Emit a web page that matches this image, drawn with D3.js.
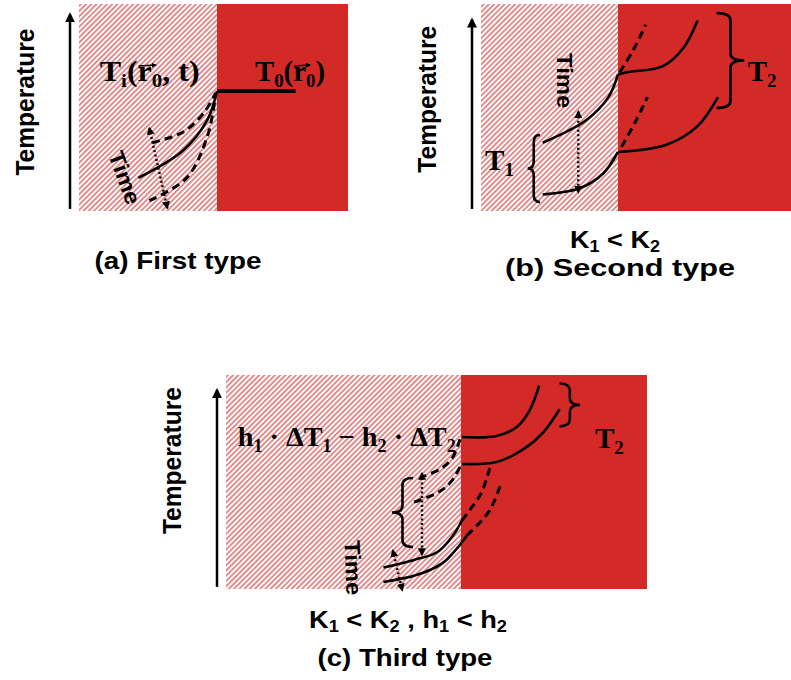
<!DOCTYPE html>
<html>
<head>
<meta charset="utf-8">
<title>Temperature profile types</title>
<script src="https://cdn.jsdelivr.net/npm/d3@7"></script>
<style>
  body { margin: 0; background: #fff; }
  .sans { font-family: "Liberation Sans", Arial, sans-serif; font-weight: bold; }
  .serif { font-family: "Liberation Serif", "Times New Roman", serif; font-weight: bold; }
</style>
</head>
<body>
<script>
// x: -100 = left edge of material 1, 0 = interface, 100 = right edge of material 2
// y: temperature, 0 = bottom, 100 = top

// (a) first type
var aSolid    = [[-57, 16], [-25, 29], [-7, 44], [0, 58]];
var aDashUp   = [[-47, 33], [-25, 38], [-10, 47], [-1, 57]];
var aDashLow  = [[-49, 5], [-22, 16], [-7, 36], [-1, 56]];
var aSurface  = [[0, 58], [60, 58]];
var aTimeArr  = [[-49, 40], [-36, 1.5]];

// (b) second type
var bTopLeft  = [[-55, 33], [-23, 44], [-7, 55], [0, 66]];
var bTopRight = [[0, 66], [5, 67], [26, 70], [38, 79], [46, 92]];
var bTopDash  = [[1, 67], [9, 78], [16, 90]];
var bLowLeft  = [[-55, 8], [-28, 11], [-11, 18], [0, 28.5]];
var bLowRight = [[0, 28.5], [28, 32], [46, 41], [57.8, 55]];
var bLowDash  = [[2, 31], [10, 43], [17, 55]];
var bTimeArr  = [[-29, 48], [-29, 9]];
var bBraces   = [{ends: -57, tip: -66, y1: 36.7, y2: 4.3}, {ends: 57, tip: 73, y1: 95.6, y2: 49.8}];

// (c) third type
var cTopRight = [[0.5, 71], [19, 71.5], [30, 75.7], [37, 83.6], [42, 95]];
var cMidRight = [[0.5, 58.4], [19, 59.3], [33, 65], [44, 73], [53, 84]];
var cDash1    = [[-0.4, 70], [-3.8, 61], [-8.9, 56], [-16, 52.6]];
var cDash2    = [[-0.4, 57], [-4.7, 49.5], [-10, 45], [-20, 40.6]];
var cLow1     = [[-33, 10], [-20, 13.6], [-10, 17.3], [-3.4, 25], [0.5, 32]];
var cLow1Dash = [[0.5, 32], [4.8, 37], [11, 45], [15.6, 57]];
var cLow2     = [[-33, 3.3], [-19, 6.5], [-8, 12], [-1.7, 19], [3.2, 25]];
var cLow2Dash = [[3.2, 25], [10, 31], [15.6, 37], [21, 48]];
var cTimeArr1 = [[-16.6, 54], [-16.6, 16]];
var cTimeArr2 = [[-29, 18], [-25, -0.5]];
var cBraces   = [{ends: -20.4, tip: -29.4, y1: 51.9, y2: 19.6}, {ends: 53, tip: 64, y1: 96, y2: 76}];

var w = 791, h = 680;
var svg = d3.select('body').append('svg').attr('width', w).attr('height', h);
var defs = svg.append('defs');

defs.append('pattern').attr('id', 'hatch').attr('patternUnits', 'userSpaceOnUse')
  .attr('width', 3.7).attr('height', 3.7).attr('patternTransform', 'rotate(45)')
  .append('rect').attr('width', 1.9).attr('height', 3.7).attr('fill', '#e28a8a');

function marker(id, size) {
  defs.append('marker').attr('id', id).attr('viewBox', '0 0 10 10')
    .attr('refX', 8).attr('refY', 5).attr('markerWidth', size).attr('markerHeight', size)
    .attr('markerUnits', 'userSpaceOnUse').attr('orient', 'auto-start-reverse')
    .append('path').attr('d', 'M0,0L10,5L0,10z').attr('fill', '#000');
}
marker('axisHead', 10);
marker('smallHead', 8);
marker('vecHead', 5);

function makePanel(box) {
  var g = svg.append('g');
  var x = d3.scaleLinear().domain([-100, 0, 100]).range([box.left, box.mid, box.right]);
  var y = d3.scaleLinear().domain([0, 100]).range([box.bottom, box.top]);
  g.append('rect').attr('x', box.left).attr('y', box.top).attr('width', box.mid - box.left)
    .attr('height', box.bottom - box.top).attr('fill', 'url(#hatch)');
  g.append('rect').attr('x', box.mid).attr('y', box.top).attr('width', box.right - box.mid)
    .attr('height', box.bottom - box.top).attr('fill', '#d42a27');
  // temperature axis
  g.append('line').attr('x1', box.left - 9).attr('x2', box.left - 9)
    .attr('y1', y(1)).attr('y2', y(box.axisTop))
    .attr('stroke', '#000').attr('stroke-width', 2.5).attr('marker-end', 'url(#axisHead)');
  g.append('text').attr('class', 'sans').attr('font-size', 25)
    .attr('text-anchor', 'middle').attr('textLength', 147).attr('lengthAdjust', 'spacingAndGlyphs')
    .attr('transform', 'translate(' + (box.left - 45) + ',' + y(box.labelY) + ') rotate(-90)')
    .text('Temperature');
  return {g: g, x: x, y: y};
}

function curve(p, data, style) {
  var line = d3.line().x(function(d) { return p.x(d[0]); }).y(function(d) { return p.y(d[1]); })
    .curve(d3.curveCatmullRom.alpha(0.5));
  var path = p.g.append('path').datum(data).attr('d', line).attr('fill', 'none')
    .attr('stroke', '#000').attr('stroke-width', style == 'surface' ? 4 : 2.6)
    .attr('stroke-linecap', 'butt');
  if (style == 'dash') path.attr('stroke-dasharray', '8,5').attr('stroke-width', 3);
  return path;
}

function timeArrow(p, data) {
  p.g.append('line').attr('x1', p.x(data[0][0])).attr('y1', p.y(data[0][1]))
    .attr('x2', p.x(data[1][0])).attr('y2', p.y(data[1][1]))
    .attr('stroke', '#000').attr('stroke-width', 2.4).attr('stroke-dasharray', '2,2.5')
    .attr('marker-start', 'url(#smallHead)').attr('marker-end', 'url(#smallHead)');
}

function brace(p, b) {
  var xe = p.x(b.ends), xt = p.x(b.tip), y1 = p.y(b.y1), y2 = p.y(b.y2);
  var xm = (xe + xt) / 2, ym = (y1 + y2) / 2, k = Math.min(7, (y2 - y1) / 6);
  var d = 'M' + xe + ',' + y1 + 'Q' + xm + ',' + y1 + ' ' + xm + ',' + (y1 + k) +
    'L' + xm + ',' + (ym - k) + 'Q' + xm + ',' + ym + ' ' + xt + ',' + ym +
    'Q' + xm + ',' + ym + ' ' + xm + ',' + (ym + k) +
    'L' + xm + ',' + (y2 - k) + 'Q' + xm + ',' + y2 + ' ' + xe + ',' + y2;
  p.g.append('path').attr('d', d).attr('fill', 'none').attr('stroke', '#000').attr('stroke-width', 2.6);
}

function timeLabel(p, xv, yv, angle) {
  p.g.append('text').attr('class', 'sans').attr('font-size', 22)
    .attr('text-anchor', 'middle').attr('dominant-baseline', 'central')
    .attr('textLength', 55).attr('lengthAdjust', 'spacingAndGlyphs')
    .attr('transform', 'translate(' + p.x(xv) + ',' + p.y(yv) + ') rotate(' + angle + ')')
    .text('Time');
}

// parts: [text, isSub]
function richText(parent, px, py, parts, cls, size, subSize, shift, len, anchor) {
  var t = parent.append('text').attr('class', cls).attr('font-size', size)
    .attr('x', px).attr('y', py).attr('text-anchor', anchor || 'start');
  var sub = false;
  parts.forEach(function(part) {
    var ts = t.append('tspan').text(part[0]);
    if (part[1] && !sub) ts.attr('dy', shift).attr('font-size', subSize);
    else if (part[1]) ts.attr('font-size', subSize);
    else if (sub) ts.attr('dy', -shift);
    sub = !!part[1];
  });
  if (len) t.attr('textLength', len).attr('lengthAdjust', 'spacingAndGlyphs');
  return t;
}

function vecOver(parent, t, idx) {
  var e = t.node().getExtentOfChar(idx);
  var yy = e.y + e.height * 0.36;
  parent.append('line').attr('x1', e.x + 1).attr('x2', e.x + e.width + 4)
    .attr('y1', yy).attr('y2', yy - 1).attr('stroke', '#000').attr('stroke-width', 1.5)
    .attr('marker-end', 'url(#vecHead)');
}

// ---- panel (a)
var pa = makePanel({left: 79, mid: 217, right: 348, top: 4, bottom: 211, axisTop: 95, labelY: 52.6});
curve(pa, aSolid, 'solid');
curve(pa, aDashUp, 'dash');
curve(pa, aDashLow, 'dash');
curve(pa, aSurface, 'surface');
timeArrow(pa, aTimeArr);
timeLabel(pa, -67, 16, 70);
var ti = richText(pa.g, pa.x(-85), pa.y(63), [['T'], ['i', 1], ['('], ['r'], ['0', 1], [', t)']],
  'serif', 29, 19, 6, 100);
vecOver(pa.g, ti, 3);
var t0 = richText(pa.g, pa.x(29), pa.y(63), [['T'], ['0', 1], ['('], ['r'], ['0', 1], [')']],
  'serif', 29, 19, 6, 70);
vecOver(pa.g, t0, 3);
richText(svg, 178, 269, [['(a) First type']], 'sans', 24, 16, 0, 167, 'middle');

// ---- panel (b)
var pb = makePanel({left: 481, mid: 618, right: 791, top: 4, bottom: 211, axisTop: 92.5, labelY: 54});
curve(pb, bTopLeft, 'solid');
curve(pb, bTopRight, 'solid');
curve(pb, bTopDash, 'dash');
curve(pb, bLowLeft, 'solid');
curve(pb, bLowRight, 'solid');
curve(pb, bLowDash, 'dash');
timeArrow(pb, bTimeArr);
timeLabel(pb, -39, 63, 90);
bBraces.forEach(function(b) { brace(pb, b); });
richText(pb.g, pb.x(-97), pb.y(20), [['T'], ['1', 1]], 'serif', 29, 19, 6);
richText(pb.g, pb.x(75), pb.y(63), [['T'], ['2', 1]], 'serif', 29, 19, 6);
richText(svg, 615, 248, [['K'], ['1', 1], [' < K'], ['2', 1]], 'sans', 24, 16, 4, 90, 'middle');
richText(svg, 620, 276, [['(b) Second type']], 'sans', 24, 16, 0, 230, 'middle');

// ---- panel (c)
var pc = makePanel({left: 226, mid: 461, right: 647, top: 375, bottom: 589, axisTop: 93, labelY: 60});
curve(pc, cTopRight, 'solid');
curve(pc, cMidRight, 'solid');
curve(pc, cDash1, 'dash');
curve(pc, cDash2, 'dash');
curve(pc, cLow1, 'solid');
curve(pc, cLow1Dash, 'dash');
curve(pc, cLow2, 'solid');
curve(pc, cLow2Dash, 'dash');
timeArrow(pc, cTimeArr1);
timeArrow(pc, cTimeArr2);
timeLabel(pc, -46, 10, 88);
cBraces.forEach(function(b) { brace(pc, b); });
richText(pc.g, pc.x(-95), pc.y(67),
  [['h'], ['1', 1], [' \u00b7 \u0394T'], ['1', 1], [' \u2212 h'], ['2', 1], [' \u00b7 \u0394T'], ['2', 1]],
  'serif', 28, 18, 6, 218);
richText(pc.g, pc.x(72), pc.y(66), [['T'], ['2', 1]], 'serif', 29, 19, 6);
richText(svg, 408, 628, [['K'], ['1', 1], [' < K'], ['2', 1], [' , h'], ['1', 1], [' < h'], ['2', 1]],
  'sans', 24, 16, 4, 198, 'middle');
richText(svg, 405, 666, [['(c) Third type']], 'sans', 24, 16, 0, 175, 'middle');
</script>
</body>
</html>
